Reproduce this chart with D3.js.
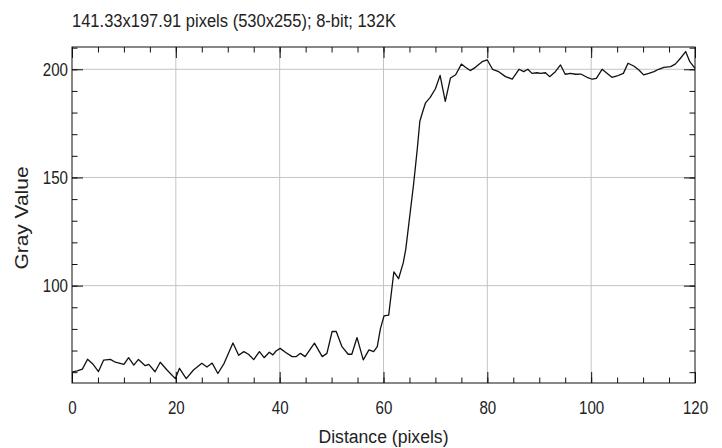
<!DOCTYPE html>
<html>
<head>
<meta charset="utf-8">
<script src="https://cdn.jsdelivr.net/npm/d3@7"></script>
<style>
  html, body { margin: 0; padding: 0; background: #fff; }
  svg { display: block; }
  text { font-family: "Liberation Sans", Arial, sans-serif; fill: #222; }
</style>
</head>
<body>
<div id="container"></div>
<script>
// profile data
const distance = [0, 1, 2, 3, 4, 5.1, 6.1, 7.4, 8.35, 10, 10.9, 11.9, 12.8, 14.1, 14.8, 16, 17, 18.3, 19.9, 20.7,
  22, 23.4, 25, 26, 27, 28.1, 29.3, 31, 32.1, 33.1, 34, 35, 36.1, 37, 38, 38.7, 39.3, 40.1, 41.1, 42.4,
  43.2, 44, 44.9, 46.1, 46.7, 48.2, 49.1, 50.1, 50.9, 52, 53.2, 53.9, 54.9, 56.1, 57.2, 58.1, 58.8, 59.4, 60.1, 61,
  62, 62.9, 63.8, 64.3, 64.9, 65.8, 66.5, 67, 67.5, 68.1, 69, 70, 70.9, 71.9, 72.9, 73.9, 75, 75.8, 76.7, 77.7,
  79, 80, 81, 82.2, 83.5, 84.8, 86.1, 87, 87.8, 88.6, 89.6, 90.2, 91.2, 92, 93.1, 94.1, 95, 96, 97, 98,
  99.2, 100.2, 101, 102.1, 103.1, 104, 105, 106.2, 107.1, 108.2, 109.2, 110.1, 111.1, 112.1, 113, 114, 115.3, 116.2, 117.2, 118.2,
  119, 120];
const grayValue = [60.0, 60.6, 61.4, 66.0, 63.8, 60.3, 65.6, 65.9, 64.6, 63.6, 66.7, 63.3, 65.9, 63.0, 63.6, 60.2, 64.6, 61.0, 57.0, 61.8,
  57.0, 61.0, 64.1, 62.4, 64.2, 59.4, 64.1, 73.5, 67.8, 69.5, 68.3, 65.8, 69.5, 66.7, 69.2, 68.0, 69.8, 71.0, 69.2, 67.2,
  67.2, 68.7, 67.2, 71.4, 73.4, 67.2, 68.7, 78.8, 78.8, 71.8, 68.3, 68.3, 76.0, 65.7, 70.3, 69.5, 71.8, 80.0, 86.0, 86.4,
  106.4, 103.2, 110.5, 117.0, 129.0, 147.0, 163.0, 176.0, 180.0, 184.5, 187.0, 191.0, 197.2, 185.2, 196.0, 197.5, 202.4, 200.9, 199.4, 200.9,
  203.5, 204.3, 200.0, 198.9, 196.6, 195.5, 200.0, 198.9, 200.0, 198.1, 198.4, 198.1, 198.4, 196.6, 198.9, 202.0, 197.7, 198.1, 197.7, 197.8,
  196.3, 195.4, 195.8, 200.0, 198.1, 196.3, 196.9, 198.1, 202.8, 201.5, 199.7, 197.4, 198.1, 198.9, 200.0, 200.9, 201.2, 202.4, 205.1, 208.2,
  203.5, 200.4];

const xMajor = [0, 20, 40, 60, 80, 100, 120];
const yMajor = [100, 150, 200];
const xMinor = d3.range(0, 121, 5);
const yMinor = d3.range(60, 211, 10);
const title = "141.33x197.91 pixels (530x255); 8-bit; 132K";

const W = 722, H = 448;
const margin = { top: 47, right: 27, bottom: 65, left: 72 };
const width = W - margin.left - margin.right;
const height = H - margin.top - margin.bottom;

const svg = d3.create("svg").attr("width", W).attr("height", H);
document.getElementById("container").append(svg.node());

const g = svg.append("g").attr("transform", `translate(${margin.left},${margin.top})`);

const x = d3.scaleLinear().domain([0, 120]).range([0, width]);
const y = d3.scaleLinear().domain([55, 210.3]).range([height, 0]);

// grid
g.append("g").selectAll("line").data(xMajor.slice(1, -1)).join("line")
  .attr("x1", d => x(d)).attr("x2", d => x(d)).attr("y1", 0).attr("y2", height)
  .attr("stroke", "#c4c4c4").attr("stroke-width", 1);
g.append("g").selectAll("line").data(yMajor).join("line")
  .attr("x1", 0).attr("x2", width).attr("y1", d => y(d)).attr("y2", d => y(d))
  .attr("stroke", "#c4c4c4").attr("stroke-width", 1);

// profile line
const line = d3.line().x((d, i) => x(distance[i])).y(d => y(d));
g.append("path")
  .datum(grayValue)
  .attr("fill", "none")
  .attr("stroke", "#111")
  .attr("stroke-width", 1.3)
  .attr("stroke-linejoin", "round")
  .attr("d", line);

// inward ticks on all four sides
function styleAxis(sel) {
  sel.select(".domain").remove();
  sel.selectAll(".tick line").attr("stroke", "#111");
}
const minorLen = 5.5, majorLen = 11;
g.append("g").attr("transform", `translate(0,${height})`)
  .call(d3.axisBottom(x).tickValues(xMinor).tickSize(-minorLen).tickFormat(""))
  .call(styleAxis);
g.append("g")
  .call(d3.axisTop(x).tickValues(xMinor).tickSize(-minorLen).tickFormat(""))
  .call(styleAxis);
g.append("g")
  .call(d3.axisLeft(y).tickValues(yMinor).tickSize(-minorLen).tickFormat(""))
  .call(styleAxis);
g.append("g").attr("transform", `translate(${width},0)`)
  .call(d3.axisRight(y).tickValues(yMinor).tickSize(-minorLen).tickFormat(""))
  .call(styleAxis);

const xAxis = g.append("g").attr("transform", `translate(0,${height})`)
  .call(d3.axisBottom(x).tickValues(xMajor).tickSize(-majorLen).tickPadding(18).tickFormat(d3.format("d")))
  .call(styleAxis);
g.append("g")
  .call(d3.axisTop(x).tickValues(xMajor).tickSize(-majorLen).tickFormat(""))
  .call(styleAxis);
const yAxis = g.append("g")
  .call(d3.axisLeft(y).tickValues(yMajor).tickSize(-majorLen).tickPadding(4).tickFormat(d3.format("d")))
  .call(styleAxis);
g.append("g").attr("transform", `translate(${width},0)`)
  .call(d3.axisRight(y).tickValues(yMajor).tickSize(-majorLen).tickFormat(""))
  .call(styleAxis);

[xAxis, yAxis].forEach(a => a.selectAll(".tick text")
  .attr("font-family", "'Liberation Sans', Arial, sans-serif")
  .attr("font-size", 19)
  .attr("fill", "#222")
  .attr("lengthAdjust", "spacingAndGlyphs")
  .attr("textLength", function () { return this.textContent.length * 8.4; }));

// frame
g.append("rect")
  .attr("width", width).attr("height", height)
  .attr("fill", "none").attr("stroke", "#111").attr("stroke-width", 1);

// title and axis labels
svg.append("text")
  .attr("x", 72).attr("y", 27)
  .attr("font-size", 18)
  .attr("textLength", 324).attr("lengthAdjust", "spacingAndGlyphs")
  .text(title);

svg.append("text")
  .attr("x", margin.left + width / 2).attr("y", 443)
  .attr("text-anchor", "middle")
  .attr("font-size", 18)
  .attr("textLength", 130).attr("lengthAdjust", "spacingAndGlyphs")
  .text("Distance (pixels)");

svg.append("text")
  .attr("transform", "translate(28,218) rotate(-90)")
  .attr("text-anchor", "middle")
  .attr("font-size", 18)
  .attr("textLength", 103).attr("lengthAdjust", "spacingAndGlyphs")
  .text("Gray Value");
</script>
</body>
</html>
